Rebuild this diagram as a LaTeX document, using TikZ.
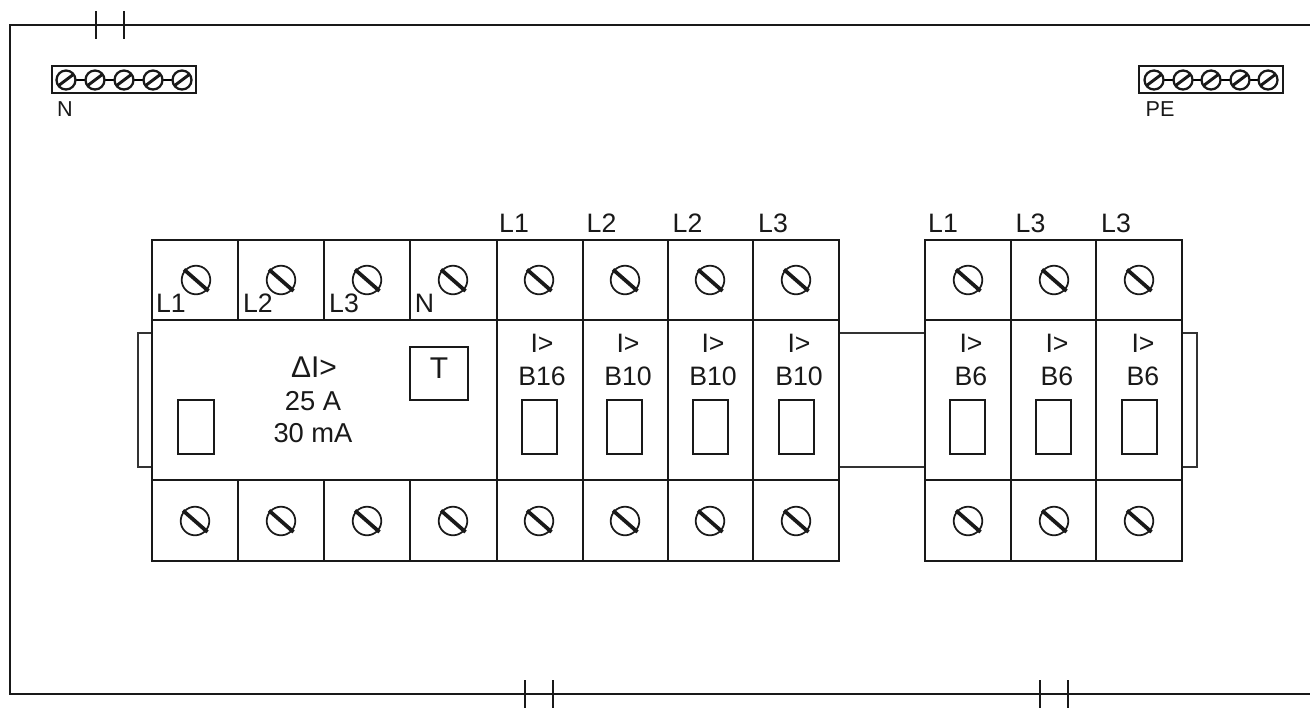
\documentclass[tikz,border=0pt]{standalone}
\usepackage{fontspec}
\setmainfont{Liberation Sans}
\begin{document}
\begin{tikzpicture}[x=0.75pt,y=-0.75pt,
  heavy/.style={line width=1.7pt,black!90},
  thick line/.style={line width=1.55pt,black!90},
  thin line/.style={line width=0.9pt,black!80},
  lbl/.style={font=\fontsize{20pt}{22pt}\selectfont,inner sep=0pt,text=black!90},
  smalllbl/.style={lbl,font=\fontsize{16.2pt}{18pt}\selectfont},
  biglbl/.style={lbl,font=\fontsize{22.5pt}{24pt}\selectfont},
  bigscrew/.pic={\draw[line width=1.3pt,black!90] (0,0) circle[radius=14.3];
    \draw[line width=2.8pt,black!90] (-12,-10.5) -- (12.5,11);},
  smallscrew/.pic={\draw[line width=1.7pt,black!90] (0,0) circle[radius=9.5];
    \draw[line width=2.2pt,black!90] (-8,6) -- (8,-6);}]
\useasboundingbox (0,0) rectangle (1310,708);
\fill[white] (0,0) rectangle (1310,708);
% enclosure
\draw[heavy] (1310,25) -- (10,25) -- (10,694) -- (1310,694);
\foreach \x in {96,124} \draw[thick line] (\x,11) -- (\x,39);
\foreach \x in {525,553,1040,1068} \draw[thick line] (\x,680) -- (\x,708);
% terminal strips
\draw[thick line] (52,66) rectangle (196,93);
\draw[line width=1.1pt] (66,80) -- (182,80);
\foreach \x in {66,95,124,153,182} \path[fill=white] (\x,80) circle[radius=9.5] pic {smallscrew};
\node[smalllbl] (nlabel) at (65,109.5) {N};
\draw[thick line] (1139,66) rectangle (1283,93);
\draw[line width=1.1pt] (1154,80) -- (1268,80);
\foreach \x in {1154,1183,1211,1240,1268} \path[fill=white] (\x,80) circle[radius=9.5] pic {smallscrew};
\node[smalllbl] (pelabel) at (1160,109.5) {PE};
% rails
\draw[thin line] (152,333) -- (138,333) -- (138,467) -- (152,467);
\draw[thin line] (1182,333) -- (1197,333) -- (1197,467) -- (1182,467);
\draw[thin line] (839,333) -- (925,333);
\draw[thin line] (839,467) -- (925,467);
% left block
\draw[thick line] (152,240) rectangle (839,561);
\draw[thick line] (152,320) -- (839,320);
\draw[thick line] (152,480) -- (839,480);
\foreach \x in {238,324,410} {\draw[thick line] (\x,240) -- (\x,320); \draw[thick line] (\x,480) -- (\x,561);}
\foreach \x in {497,583,668,753} \draw[thick line] (\x,240) -- (\x,561);
% right block
\draw[thick line] (925,240) rectangle (1182,561);
\draw[thick line] (925,320) -- (1182,320);
\draw[thick line] (925,480) -- (1182,480);
\foreach \x in {1011,1096} \draw[thick line] (\x,240) -- (\x,561);
% screws
\foreach \x in {196,281,367,453,539,625,710,796,968,1054,1139} \path (\x,280) pic {bigscrew};
\foreach \x in {195,281,367,453,539,625,710,796,968,1054,1139} \path (\x,521) pic {bigscrew};
% RCD
\draw[thick line] (178,400) rectangle (214,454);
\draw[thick line] (410,347) rectangle (468,400);
\node[biglbl] (t) at (439,368) {T};
\node[biglbl] (dl) at (314,367) {ΔI>};
\node[lbl,font=\fontsize{20.5pt}{22pt}\selectfont] (ra) at (313,401) {25 A};
\node[lbl,font=\fontsize{20.5pt}{22pt}\selectfont] (rb) at (313,433) {30 mA};
\node[lbl] (la) at (171,303) {L1};
\node[lbl] (lb) at (258,303) {L2};
\node[lbl] (lc) at (344,303) {L3};
\node[lbl] (ld) at (424.5,303) {N};
% breakers
\foreach \r/\n/\s/\tx/\cx in {B16/L1/522/514/542,B10/L2/607/601.5/628,B10/L2/693/687.5/713,B10/L3/779/773/799,B6/L1/950/943/971,B6/L3/1036/1030.5/1057,B6/L3/1122/1116/1143}{
  \draw[thick line] (\s,400) rectangle (\s+35,454);
  \node[lbl] at (\cx,343) {I>};
  \node[lbl] at (\cx,376.5) {\r};
  \node[lbl] at (\tx,223) {\n};
}
\end{tikzpicture}
\end{document}
